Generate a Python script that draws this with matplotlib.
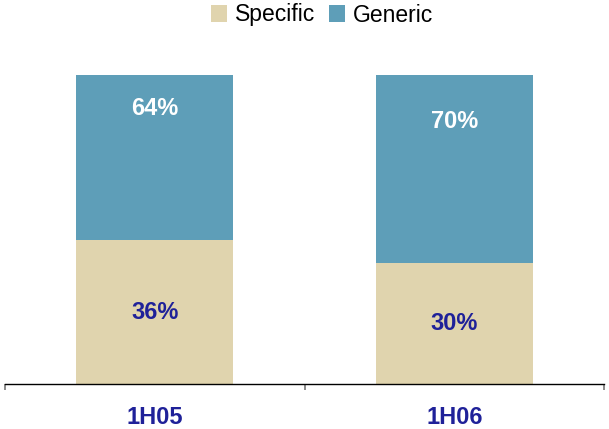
import matplotlib
matplotlib.use('Agg')

import matplotlib.pyplot as plt
import numpy as np

# bar segment heights as drawn (share of the bar), and the printed labels
categories = ['1H05', '1H06']
specific = [46.6, 39.2]
generic = [53.4, 60.8]
specific_labels = ['36%', '30%']
generic_labels = ['64%', '70%']

c_specific = '#E0D4AE'
c_generic = '#5E9EB8'
c_text = '#1F2199'

plt.rcParams['font.family'] = ['Liberation Sans', 'DejaVu Sans']

fig = plt.figure(figsize=(6.09, 4.29), dpi=100)
ax = fig.add_axes([5 / 609, 45 / 429, 599 / 609, 309 / 429])

x = np.arange(len(categories))
w = 0.524
b1 = ax.bar(x, specific, w, color=c_specific, label='Specific')
b2 = ax.bar(x, generic, w, bottom=specific, color=c_generic, label='Generic')

# labels: specific centred in its segment, generic nearer the top
for i in range(len(categories)):
    ax.text(x[i], specific[i] / 2, specific_labels[i], ha='center', va='center',
            fontsize=17, fontweight='bold', color=c_text)
    frac = [0.8, 0.75][i]
    ax.text(x[i], specific[i] + generic[i] * frac, generic_labels[i], ha='center', va='center',
            fontsize=17, fontweight='bold', color='white')

ax.set_xlim(-0.5, 1.5)
ax.set_ylim(0, 100)
for s in ['top', 'right', 'left']:
    ax.spines[s].set_visible(False)
ax.spines['bottom'].set_color('black')
ax.spines['bottom'].set_linewidth(1.0)
ax.set_yticks([])
ax.set_xticks(x)
ax.set_xticklabels(categories, fontsize=17, fontweight='bold', color=c_text)
ax.tick_params(axis='x', which='major', length=0, pad=16)
ax.set_xticks([-0.5, 0.5, 1.5], minor=True)
ax.tick_params(axis='x', which='minor', length=4.5, width=1.2, color='#777777', direction='out')

fig.legend(handles=[b1, b2], labels=['Specific', 'Generic'], loc='center',
           bbox_to_anchor=(322 / 609, 1 - 15 / 429), ncol=2, frameon=False, fontsize=16.5,
           handlelength=0.7, handleheight=0.7, handletextpad=0.35, columnspacing=0.57)

plt.savefig('out.png', dpi=100)
